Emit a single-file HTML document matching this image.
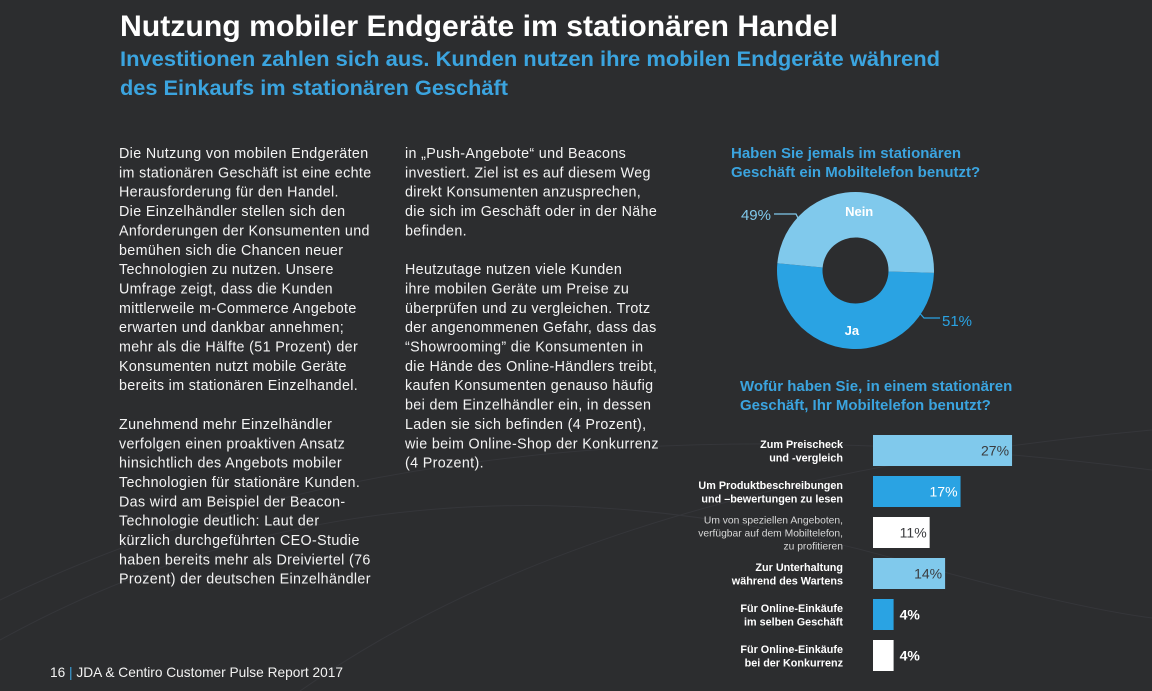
<!DOCTYPE html>
<html><head><meta charset="utf-8"><style>
html,body{margin:0;padding:0;background:#2c2d2f;}
svg{display:block;font-family:"Liberation Sans",sans-serif;}
.b{font-size:14.3px;fill:#f4f4f4;letter-spacing:0.35px;}
</style></head><body>
<svg id="page" width="1152" height="691" viewBox="0 0 1152 691">
<rect width="1152" height="691" fill="#2c2d2f"/>
<g fill="none" stroke="#35363a" stroke-width="1">
<path d="M0 640 Q400 420 900 560 T1152 520"/><path d="M0 600 Q450 380 1152 470"/><path d="M300 691 Q600 480 1152 430"/>
</g>
<text x="120" y="36" font-size="30" font-weight="bold" fill="#fff" textLength="718" lengthAdjust="spacingAndGlyphs">Nutzung mobiler Endgeräte im stationären Handel</text>
<text x="120" y="66" font-size="21" font-weight="bold" fill="#3ba4df" textLength="820" lengthAdjust="spacingAndGlyphs">Investitionen zahlen sich aus. Kunden nutzen ihre mobilen Endgeräte während</text>
<text x="120" y="95" font-size="21" font-weight="bold" fill="#3ba4df" textLength="388" lengthAdjust="spacingAndGlyphs">des Einkaufs im stationären Geschäft</text>
<g id="col1"></g>
<g id="col2"></g>
<text x="50" y="677" font-size="14" fill="#f2f2f2" textLength="293" lengthAdjust="spacingAndGlyphs">16 <tspan fill="#3ba4df">|</tspan> JDA &amp; Centiro Customer Pulse Report 2017</text>
<text x="731" y="158" font-size="15" font-weight="bold" fill="#3ba4df"><tspan x="731">Haben Sie jemals im stationären</tspan><tspan x="731" dy="19">Geschäft ein Mobiltelefon benutzt?</tspan></text>
<g id="donut"></g>
<text x="740" y="391" font-size="15" font-weight="bold" fill="#3ba4df"><tspan x="740">Wofür haben Sie, in einem stationären</tspan><tspan x="740" dy="19">Geschäft, Ihr Mobiltelefon benutzt?</tspan></text>
<g id="bars"></g>
</svg>
<script>
const NS="http://www.w3.org/2000/svg";
const col1=["Die Nutzung von mobilen Endgeräten","im stationären Geschäft ist eine echte","Herausforderung für den Handel.","Die Einzelhändler stellen sich den","Anforderungen der Konsumenten und","bemühen sich die Chancen neuer","Technologien zu nutzen. Unsere","Umfrage zeigt, dass die Kunden","mittlerweile m-Commerce Angebote","erwarten und dankbar annehmen;","mehr als die Hälfte (51 Prozent) der","Konsumenten nutzt mobile Geräte","bereits im stationären Einzelhandel.","","Zunehmend mehr Einzelhändler","verfolgen einen proaktiven Ansatz","hinsichtlich des Angebots mobiler","Technologien für stationäre Kunden.","Das wird am Beispiel der Beacon-","Technologie deutlich: Laut der","kürzlich durchgeführten CEO-Studie","haben bereits mehr als Dreiviertel (76","Prozent) der deutschen Einzelhändler"];
const col2=["in „Push-Angebote“ und Beacons","investiert. Ziel ist es auf diesem Weg","direkt Konsumenten anzusprechen,","die sich im Geschäft oder in der Nähe","befinden.","","Heutzutage nutzen viele Kunden","ihre mobilen Geräte um Preise zu","überprüfen und zu vergleichen. Trotz","der angenommenen Gefahr, dass das","“Showrooming” die Konsumenten in","die Hände des Online-Händlers treibt,","kaufen Konsumenten genauso häufig","bei dem Einzelhändler ein, in dessen","Laden sie sich befinden (4 Prozent),","wie beim Online-Shop der Konkurrenz","(4 Prozent)."];
function col(id,lines,x){const g=document.getElementById(id);lines.forEach((l,i)=>{if(!l)return;const t=document.createElementNS(NS,"text");t.setAttribute("x",x);t.setAttribute("y",158+i*19.35);t.setAttribute("class","b");t.textContent=l;


g.appendChild(t);});}
col("col1",col1,119);col("col2",col2,405);

// donut data
const pieLabels=["Ja","Nein"];
const pieValues=[51,49];
const pieColors=["#2aa3e3","#80c9ec"];
const cx=855.5,cy=270.5,R=78.5,r=33;
const dg=document.getElementById("donut");
let a0=0.03;
function pt(a,rad){return [cx+rad*Math.cos(a),cy+rad*Math.sin(a)];}
const total=pieValues.reduce((s,v)=>s+v,0);
const mids=[];
pieValues.forEach((v,i)=>{const a1=a0+v/total*2*Math.PI;const large=(a1-a0)>Math.PI?1:0;
const [x0,y0]=pt(a0,R),[x1,y1]=pt(a1,R),[x2,y2]=pt(a1,r),[x3,y3]=pt(a0,r);
const p=document.createElementNS(NS,"path");
p.setAttribute("d",`M${x0} ${y0}A${R} ${R} 0 ${large} 1 ${x1} ${y1}L${x2} ${y2}A${r} ${r} 0 ${large} 0 ${x3} ${y3}Z`);
p.setAttribute("fill",pieColors[i]);


dg.appendChild(p);mids.push((a0+a1)/2);a0=a1;});
pieLabels.forEach((l,i)=>{const [x,y]=pt(mids[i],(R+r)/2+4);const t=document.createElementNS(NS,"text");
t.setAttribute("x",x);t.setAttribute("y",y+5);t.setAttribute("text-anchor","middle");t.setAttribute("font-size","13");t.setAttribute("font-weight","bold");t.setAttribute("fill","#fff");t.textContent=l;


dg.appendChild(t);});
const call=[{i:0,x:942,y:326,anchor:"start",lx:[916,924,940],ly:[309,318,318]},{i:1,x:771,y:220,anchor:"end",lx:[800,796,774],ly:[222,214,214]}];
call.forEach(c=>{const t=document.createElementNS(NS,"text");t.setAttribute("x",c.x);t.setAttribute("y",c.y);t.setAttribute("text-anchor",c.anchor);t.setAttribute("font-size","15");t.setAttribute("fill",pieColors[c.i]);t.textContent=pieValues[c.i]+"%";


dg.appendChild(t);
const pl=document.createElementNS(NS,"polyline");pl.setAttribute("points",c.lx.map((x,k)=>x+","+c.ly[k]).join(" "));pl.setAttribute("fill","none");pl.setAttribute("stroke",pieColors[c.i]);pl.setAttribute("stroke-width","1.2");


dg.appendChild(pl);});

// bar data
const barCats=[["Zum Preischeck","und -vergleich"],["Um Produktbeschreibungen","und –bewertungen zu lesen"],["Um von speziellen Angeboten,","verfügbar auf dem Mobiltelefon,","zu profitieren"],["Zur Unterhaltung","während des Wartens"],["Für Online-Einkäufe","im selben Geschäft"],["Für Online-Einkäufe","bei der Konkurrenz"]];
const barValues=[27,17,11,14,4,4];
const barFills=["#80c9ec","#2aa3e3","#ffffff","#80c9ec","#2aa3e3","#ffffff"];
const x0b=873,pxPer=5.15,y0b=435,step=41,bh=31;
const xS=v=>v*pxPer, yS=i=>y0b+i*step;
const bg=document.getElementById("bars");
barValues.forEach((v,i)=>{const y=yS(i),w=xS(v);
const r=document.createElementNS(NS,"rect");r.setAttribute("x",x0b);r.setAttribute("y",y);r.setAttribute("width",w);r.setAttribute("height",bh);r.setAttribute("fill",barFills[i]);


bg.appendChild(r);
const t=document.createElementNS(NS,"text");const inside=w>40;
t.setAttribute("x",inside?x0b+w-3:x0b+w+6);t.setAttribute("y",y+bh/2+5);t.setAttribute("text-anchor",inside?"end":"start");t.setAttribute("font-size","14");t.setAttribute("font-weight",inside?"normal":"bold");
t.setAttribute("fill",inside?(barFills[i]=="#2aa3e3"?"#fff":"#3a3b3e"):"#fff");t.textContent=v+"%";


bg.appendChild(t);
const lines=barCats[i];const lt=document.createElementNS(NS,"text");lt.setAttribute("text-anchor","end");lt.setAttribute("font-size",lines.length>2?"10.3":"10.8");lt.setAttribute("font-weight",lines.length>2?"normal":"bold");lt.setAttribute("fill",lines.length>2?"#d8d8d8":"#fff");
const lh=lines.length>2?13:13.5;const start=y+bh/2-(lines.length-1)*lh/2+4;
lines.forEach((s,k)=>{const ts=document.createElementNS(NS,"tspan");ts.setAttribute("x",843);ts.setAttribute("y",start+k*lh);ts.textContent=s;lt.appendChild(ts);});


bg.appendChild(lt);});
</script>
</body></html>
